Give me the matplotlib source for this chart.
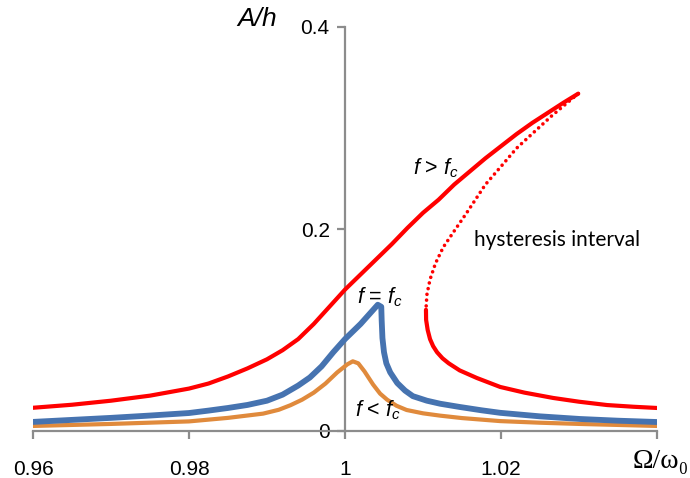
import matplotlib
matplotlib.use('Agg')
import matplotlib.pyplot as plt

# curve values (x = Omega/omega0, y = A/h)
upper_x = [0.96, 0.965, 0.97, 0.975, 0.98, 0.9825, 0.985, 0.9875, 0.99, 0.992, 0.994,
           0.996, 0.998, 1.0, 1.002, 1.004, 1.006, 1.008, 1.01, 1.012, 1.014, 1.016,
           1.018, 1.02, 1.022, 1.024, 1.026, 1.028, 1.0299]
upper_y = [0.023, 0.026, 0.030, 0.035, 0.042, 0.047, 0.054, 0.062, 0.071, 0.080, 0.091,
           0.106, 0.123, 0.140, 0.155, 0.170, 0.185, 0.201, 0.216, 0.229, 0.244, 0.257,
           0.270, 0.282, 0.294, 0.305, 0.315, 0.325, 0.334]

unstable_x = [1.0299, 1.0285, 1.0265, 1.0241, 1.022, 1.0199, 1.018, 1.0156, 1.014,
              1.0126, 1.0116, 1.0109, 1.0105, 1.01038]
unstable_y = [0.334, 0.325, 0.312, 0.295, 0.280, 0.261, 0.244, 0.216, 0.198,
              0.182, 0.166, 0.150, 0.135, 0.120]

lower_x = [1.01038, 1.0104, 1.0106, 1.0109, 1.0113, 1.0118, 1.0125, 1.0133, 1.0147,
           1.0169, 1.0199, 1.023, 1.0267, 1.030, 1.0336, 1.037, 1.04]
lower_y = [0.120, 0.110, 0.100, 0.091, 0.084, 0.078, 0.072, 0.067, 0.060,
           0.0525, 0.0436, 0.038, 0.0327, 0.029, 0.0257, 0.024, 0.0228]

crit_x = [0.96, 0.965, 0.97, 0.975, 0.98, 0.9825, 0.985, 0.9875, 0.99, 0.992, 0.994,
          0.9955, 0.997, 0.9985, 1.0, 1.002, 1.0042, 1.00465, 1.0047, 1.0048, 1.005,
          1.0053, 1.0058, 1.0067, 1.0077, 1.0087, 1.0105, 1.0122, 1.0147, 1.0175,
          1.0199, 1.025, 1.0301, 1.035, 1.04]
crit_y = [0.009, 0.011, 0.013, 0.0153, 0.0178, 0.0202, 0.0228, 0.0258, 0.030, 0.036, 0.045,
          0.053, 0.064, 0.078, 0.091, 0.106, 0.125, 0.123, 0.110, 0.092, 0.078,
          0.067, 0.058, 0.0475, 0.040, 0.0345, 0.030, 0.027, 0.0238, 0.0205,
          0.018, 0.0145, 0.0119, 0.0102, 0.0089]

sub_x = [0.96, 0.97, 0.98, 0.985, 0.9895, 0.9915, 0.993, 0.9945, 0.996, 0.9975, 0.999,
         1.0003, 1.001, 1.0017, 1.0025, 1.0036, 1.0045, 1.0054, 1.0066, 1.0079, 1.01,
         1.0122, 1.015, 1.0199, 1.025, 1.03, 1.035, 1.04]
sub_y = [0.005, 0.007, 0.0095, 0.013, 0.0172, 0.021, 0.0255, 0.031, 0.038, 0.047, 0.058,
         0.066, 0.069, 0.067, 0.059, 0.046, 0.037, 0.031, 0.025, 0.0208, 0.0175,
         0.0152, 0.0128, 0.0098, 0.0082, 0.007, 0.006, 0.005]

x_ticks = [0.96, 0.98, 1.0, 1.02, 1.04]
x_tick_labels = ['0.96', '0.98', '1', '1.02', '']
y_ticks = [0, 0.2, 0.4]
y_tick_labels = ['0', '0.2', '0.4']

RED = '#FF0000'
BLUE = '#4673B0'
ORANGE = '#E08A3C'
AXIS_GRAY = '#8C8C8C'


def setup_axes(ax):
    ax.set_xlim(0.96, 1.04)
    ax.set_ylim(0, 0.4)
    ax.spines['top'].set_visible(False)
    ax.spines['right'].set_visible(False)
    ax.spines['left'].set_position(('data', 1.0))  # y axis sits at resonance
    for side in ('left', 'bottom'):
        ax.spines[side].set_color(AXIS_GRAY)
        ax.spines[side].set_linewidth(1.6)
    ax.set_xticks(x_ticks)
    ax.set_xticklabels(x_tick_labels)
    ax.set_yticks(y_ticks)
    ax.set_yticklabels(y_tick_labels)
    ax.tick_params(axis='x', direction='out', length=6, width=1.6, color=AXIS_GRAY,
                   pad=15, labelsize=15)
    ax.tick_params(axis='y', direction='out', length=6, width=1.6, color=AXIS_GRAY,
                   pad=5, labelsize=15)


def main():
    plt.rcParams['font.family'] = ['Liberation Sans', 'DejaVu Sans']
    plt.rcParams['mathtext.fontset'] = 'custom'
    plt.rcParams['mathtext.it'] = 'Liberation Sans:italic'
    plt.rcParams['mathtext.rm'] = 'Liberation Sans'

    fig = plt.figure(figsize=(6.9, 4.78), dpi=100)
    ax = fig.add_axes([33 / 690, 1 - 431 / 478, 624 / 690, 404 / 478])
    setup_axes(ax)

    ax.plot(sub_x, sub_y, color=ORANGE, lw=3.0, solid_joinstyle='round', zorder=3)
    ax.plot(crit_x, crit_y, color=BLUE, lw=4.2, solid_joinstyle='round', zorder=4)
    ax.plot(upper_x, upper_y, color=RED, lw=3.0, solid_capstyle='round', zorder=5)
    ax.plot(lower_x, lower_y, color=RED, lw=3.0, solid_capstyle='round', zorder=5)
    ax.plot(unstable_x, unstable_y, color=RED, lw=2.6, linestyle=(0, (0.01, 1.6)),
            dash_capstyle='round', zorder=5)

    # curve labels
    ax.text(1.01167, 0.260, r'$f$ > $f_c$', fontsize=15.5, ha='center', va='center')
    ax.text(1.00451, 0.132, r'$f$ = $f_c$', fontsize=15.5, ha='center', va='center', zorder=6)
    ax.text(1.00427, 0.021, r'$f$ < $f_c$', fontsize=15.5, ha='center', va='center', zorder=6)
    ax.text(1.02718, 0.189, 'hysteresis interval', fontsize=15, ha='center', va='center',
            family=['Lato', 'DejaVu Sans'])

    # axis titles
    fig.text(257 / 690, 1 - 19 / 478, 'A/h', fontsize=19, style='italic',
             ha='center', va='center')
    fig.text(689 / 690, 1 - 462 / 478, 'Ω/ω₀', fontsize=20, ha='right', va='center',
             family=['Liberation Serif', 'DejaVu Serif'])

    fig.savefig('out.png', dpi=100)


if __name__ == '__main__':
    main()
